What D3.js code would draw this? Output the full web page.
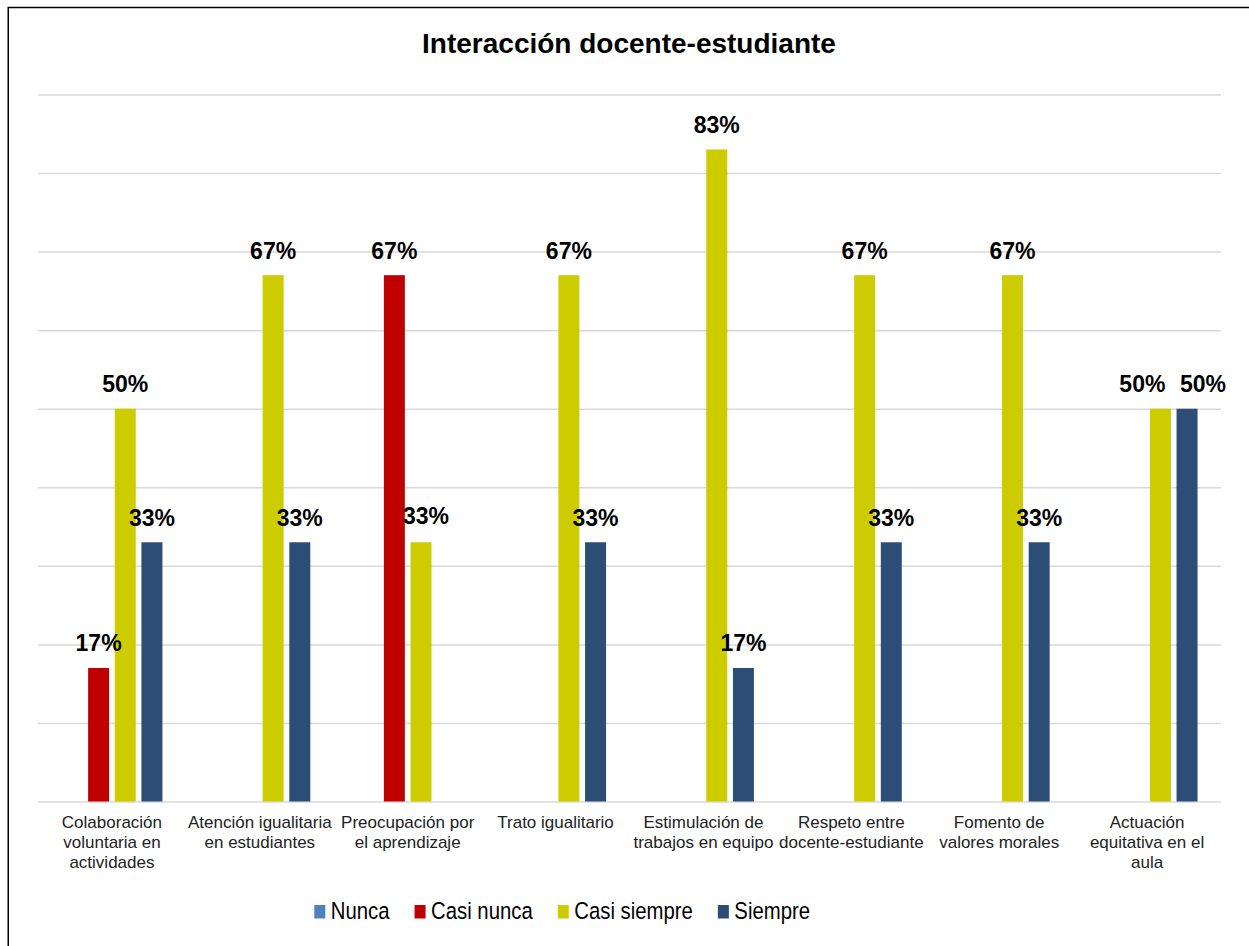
<!DOCTYPE html>
<html>
<head>
<meta charset="utf-8">
<script src="https://cdn.jsdelivr.net/npm/d3@7"></script>
<style>
  html, body { margin: 0; padding: 0; background: #fff; }
  svg { display: block; }
  text { font-family: "Liberation Sans", Arial, sans-serif; }
</style>
</head>
<body>
<svg id="chart" width="1249" height="946"></svg>
<script>
const title = "Interacción docente-estudiante";
const categories = [
  "Colaboración voluntaria en actividades",
  "Atención igualitaria en estudiantes",
  "Preocupación por el aprendizaje",
  "Trato igualitario",
  "Estimulación de trabajos en equipo",
  "Respeto entre docente-estudiante",
  "Fomento de valores morales",
  "Actuación equitativa en el aula"
];
const seriesNames = ["Nunca", "Casi nunca", "Casi siempre", "Siempre"];
const nunca       = [0, 0, 0, 0, 0, 0, 0, 0];
const casiNunca   = [0.17, 0, 0.67, 0, 0, 0, 0, 0];
const casiSiempre = [0.50, 0.67, 0.33, 0.67, 0.83, 0.67, 0.67, 0.50];
const siempre     = [0.33, 0.33, 0, 0.33, 0.17, 0.33, 0.33, 0.50];
const seriesValues = [nunca, casiNunca, casiSiempre, siempre];
const colors = ["#4F81BD", "#C00000", "#CCCC00", "#2C4D75"];
const yTicks = [0, 0.1, 0.2, 0.3, 0.4, 0.5, 0.6, 0.7, 0.8, 0.9];

// manual label nudges (series index, category index) -> [dx, dy]
const labelNudge = { "2-2": [5, -2], "2-7": [-18, 0], "3-7": [16, 0] };

const svg = d3.select("#chart");

// outer frame (extends past the right/bottom edge as in the reference)
svg.append("rect")
  .attr("x", 8.25).attr("y", 7.5).attr("width", 1400).attr("height", 1100)
  .attr("fill", "#fff").attr("stroke", "#000").attr("stroke-width", 1.5);

const plot = { left: 38, right: 1221, top: 94.5, bottom: 801.5 };

const x0 = d3.scaleBand().domain(categories).range([plot.left, plot.right]).padding(0);
const x1 = d3.scaleBand().domain(seriesNames).range([0, x0.bandwidth()])
  .paddingInner(0.213).paddingOuter(0.88);
const y = d3.scaleLinear().domain([0, 0.9]).range([plot.bottom, plot.top]);

// gridlines
const grid = svg.append("g").attr("transform", `translate(${plot.left},0)`)
  .call(d3.axisLeft(y).tickValues(yTicks).tickSize(-(plot.right - plot.left)).tickFormat(""));
grid.select(".domain").remove();
grid.selectAll(".tick line").attr("stroke", "#D9D9D9").attr("stroke-width", 1.5);

// title
svg.append("text")
  .attr("x", 629).attr("y", 53.3)
  .attr("text-anchor", "middle")
  .attr("font-size", 28).attr("font-weight", "bold").attr("fill", "#000")
  .text(title);

// bars
const groups = svg.append("g").selectAll("g")
  .data(seriesNames.map((name, si) => ({ name, si, values: seriesValues[si] })))
  .join("g")
  .attr("fill", d => colors[d.si]);

groups.selectAll("rect")
  .data(d => d.values.map((v, ci) => ({ v, ci, si: d.si, name: d.name })))
  .join("rect")
  .attr("x", d => x0(categories[d.ci]) + x1(d.name))
  .attr("width", x1.bandwidth())
  .attr("y", d => y(d.v))
  .attr("height", d => y(0) - y(d.v));

// data labels
const labelData = [];
seriesValues.forEach((vals, si) => vals.forEach((v, ci) => {
  if (v > 0) labelData.push({ v, ci, si, name: seriesNames[si] });
}));
svg.append("g").selectAll("text")
  .data(labelData)
  .join("text")
  .attr("x", d => x0(categories[d.ci]) + x1(d.name) + x1.bandwidth() / 2 + ((labelNudge[d.si + "-" + d.ci] || [0, 0])[0]))
  .attr("y", d => y(d.v) - 16.6 + ((labelNudge[d.si + "-" + d.ci] || [0, 0])[1]))
  .attr("text-anchor", "middle")
  .attr("font-size", 23).attr("font-weight", "bold").attr("fill", "#000")
  .text(d => d3.format(".0%")(d.v));

// category labels with wrapping
const catG = svg.append("g");
categories.forEach(c => {
  const t = catG.append("text")
    .attr("x", x0(c) + x0.bandwidth() / 2)
    .attr("y", 828.3)
    .attr("text-anchor", "middle")
    .attr("font-size", 17).attr("fill", "#222");
  const words = c.split(" ");
  let line = [];
  let lineNo = 0;
  let tspan = t.append("tspan").attr("x", x0(c) + x0.bandwidth() / 2).attr("dy", 0);
  words.forEach(w => {
    line.push(w);
    tspan.text(line.join(" "));
    if (tspan.node().getComputedTextLength() > 147 && line.length > 1) {
      line.pop();
      tspan.text(line.join(" "));
      line = [w];
      lineNo++;
      tspan = t.append("tspan").attr("x", x0(c) + x0.bandwidth() / 2).attr("dy", 20).text(w);
    }
  });
});

// legend
const legend = svg.append("g");
let lx = 314.3;
const sx = 0.865;
seriesNames.forEach((name, i) => {
  legend.append("rect")
    .attr("x", lx).attr("y", 905).attr("width", 11).attr("height", 13.5)
    .attr("fill", colors[i]);
  const tx = lx + 16.5;
  const t = legend.append("text")
    .attr("transform", `translate(${tx},919.3) scale(${sx},1)`)
    .attr("font-size", 23.5).attr("fill", "#000")
    .text(name);
  const w = t.node().getComputedTextLength() * sx;
  lx = tx + w + 25;
});
</script>
</body>
</html>
